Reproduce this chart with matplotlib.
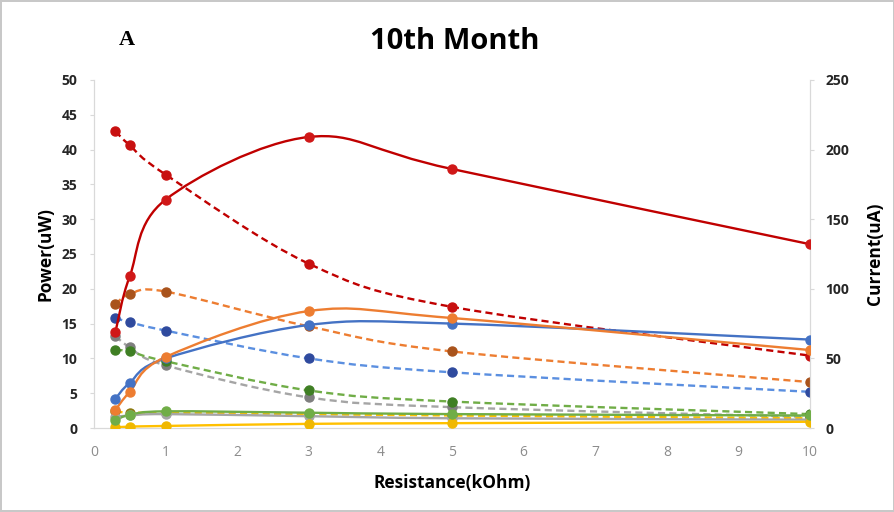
import numpy as np
import matplotlib
matplotlib.use("Agg")
import matplotlib.pyplot as plt
from matplotlib.path import Path
from matplotlib.patches import PathPatch

plt.rcParams['font.family'] = ['Open Sans', 'DejaVu Sans']

resistance = [0.3, 0.5, 1, 3, 5, 10]

# power (uW), left axis, solid lines
power_red = [13.8, 21.8, 32.8, 41.8, 37.2, 26.4]
power_orange = [2.6, 5.2, 10.2, 16.8, 15.8, 11.2]
power_blue = [4.2, 6.5, 10.0, 14.8, 15.0, 12.7]
power_green = [1.1, 1.9, 2.4, 2.2, 2.0, 1.8]
power_gray = [1.6, 1.8, 2.0, 1.7, 1.4, 1.2]
power_yellow = [0.1, 0.2, 0.3, 0.6, 0.7, 0.9]

# current (uA), right axis, dashed lines
current_red = [213, 203, 182, 118, 87, 52]
current_orange = [89, 96, 98, 73, 55, 33]
current_blue = [79, 76, 70, 50, 40, 26]
current_green = [56, 55, 48, 27, 19, 10]
current_gray = [66, 58, 45, 22, 15, 8]
current_yellow = [12, 11, 11, 10, 9, 7]


def smooth_path(x, y):
    # Excel-style smoothed line: Catmull-Rom segments as cubic Beziers
    pts = np.column_stack([x, y]).astype(float)
    verts = [pts[0]]
    codes = [Path.MOVETO]
    n = len(pts)
    for i in range(n - 1):
        p0 = pts[i - 1] if i > 0 else pts[i]
        p1 = pts[i]
        p2 = pts[i + 1]
        p3 = pts[i + 2] if i + 2 < n else pts[i + 1]
        c1 = p1 + (p2 - p0) / 6.0
        c2 = p2 - (p3 - p1) / 6.0
        verts += [c1, c2, p2]
        codes += [Path.CURVE4] * 3
    return Path(verts, codes)


def draw(ax, x, y, line_color, marker_color, ls, z):
    patch = PathPatch(smooth_path(x, y), facecolor='none', edgecolor=line_color,
                      lw=1.7, ls=ls, zorder=z)
    ax.add_patch(patch)
    ax.plot(x, y, ls='none', marker='o', ms=6.5, mfc=marker_color,
            mec=marker_color, zorder=z + 0.5)


fig = plt.figure(figsize=(8.95, 5.12), dpi=100)
fig.patch.set_edgecolor('#c8c8c8')
fig.patch.set_linewidth(1.5)
ax = fig.add_axes([0.105, 0.164, 0.8, 0.68])
ax2 = ax.twinx()

dash = (0, (3, 1.8))
draw(ax2, resistance, current_gray, '#a5a5a5', '#7f7f7f', dash, 2)
draw(ax2, resistance, current_yellow, '#ffc000', '#8c7a10', dash, 2)
draw(ax2, resistance, current_green, '#70ad47', '#3f7f24', dash, 2)
draw(ax2, resistance, current_blue, '#5b8fe0', '#2f4a9e', dash, 2)
draw(ax2, resistance, current_orange, '#ed7d31', '#a9531c', dash, 2)
draw(ax2, resistance, current_red, '#c00000', '#c81010', dash, 2)

draw(ax, resistance, power_gray, '#a5a5a5', '#a5a5a5', '-', 3)
draw(ax, resistance, power_yellow, '#ffc000', '#f0b800', '-', 3)
draw(ax, resistance, power_green, '#70ad47', '#70ad47', '-', 3)
draw(ax, resistance, power_blue, '#4472c4', '#4472c4', '-', 3)
draw(ax, resistance, power_orange, '#ed7d31', '#ed7d31', '-', 3)
draw(ax, resistance, power_red, '#c00000', '#d01818', '-', 3)

ax.set_zorder(ax2.get_zorder() + 1)
ax.patch.set_visible(False)

ax.set_xlim(0, 10)
ax.set_ylim(0, 50)
ax2.set_ylim(0, 250)
ax.set_xticks(range(0, 11))
ax.set_yticks(range(0, 51, 5))
ax2.set_yticks(range(0, 251, 50))

for a in (ax, ax2):
    for s in a.spines.values():
        s.set_color('#d9d9d9')
    a.spines['top'].set_visible(False)
    a.tick_params(axis='y', length=3, color='#d9d9d9', labelsize=10,
                  labelcolor='#262626', pad=9)
    for lbl in a.get_yticklabels():
        lbl.set_fontweight('bold')
ax.tick_params(axis='x', length=0, labelsize=10, labelcolor='#8c8c8c', pad=12)
ax2.tick_params(axis='y', pad=8)

ax.set_xlabel('Resistance(kOhm)', fontsize=12.5, fontweight='bold', labelpad=10)
ax.set_ylabel('Power(uW)', fontsize=12.5, fontweight='bold', labelpad=5)
ax2.set_ylabel('Current(uA)', fontsize=12.5, fontweight='bold', labelpad=12)

fig.text(0.508, 0.918, '10th Month', ha='center', va='center', fontsize=21,
         fontweight='bold')
fig.text(0.142, 0.922, 'A', ha='center', va='center', fontsize=16,
         fontweight='bold', family='Liberation Serif')

fig.savefig('out.png', dpi=100)
